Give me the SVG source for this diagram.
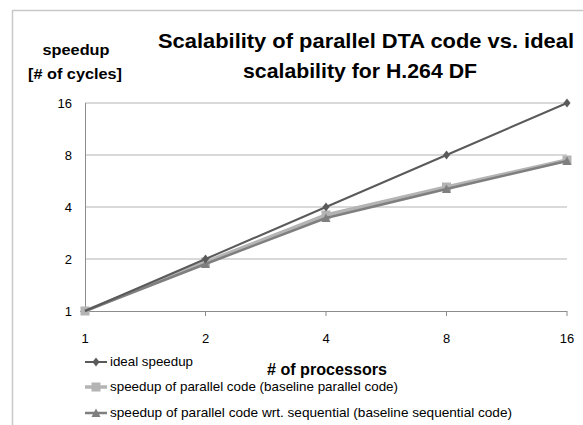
<svg xmlns="http://www.w3.org/2000/svg" width="583" height="425" viewBox="0 0 583 425">
  <style>
    .t { font-family: "Liberation Sans", Arial, sans-serif; fill: #000; }
    .title { font-size: 21px; font-weight: bold; text-anchor: middle; }
    .ylab { font-size: 15px; font-weight: bold; text-anchor: middle; }
    .tick { font-size: 13px; }
    .leg { font-size: 13px; }
    .grid { stroke: #b3b3b3; stroke-width: 1; }
    .axis { stroke: #8c8c8c; stroke-width: 1; fill: none; }
    .ideal { stroke: #5a5a5a; stroke-width: 2; fill: none; }
    .par { stroke: #b4b4b4; stroke-width: 3.5; fill: none; }
    .seq { stroke: #7f7f7f; stroke-width: 2.5; fill: none; }
  </style>
  <defs>
    <path id="dia" d="M0,-4.5 L3.5,0 L0,4.5 L-3.5,0 Z" fill="#5a5a5a"/>
    <rect id="sq" x="-4.5" y="-4.5" width="9" height="9" fill="#b4b4b4"/>
    <path id="tri" d="M0,-4.5 L4.5,4 L-4.5,4 Z" fill="#7f7f7f"/>
  </defs>

  <rect width="583" height="425" fill="#fff"/>
  <!-- chart frame -->
  <path d="M12.5,425 L12.5,10.5 L583,10.5" stroke="#c8c8c8" stroke-width="1.5" fill="none"/>

  <!-- titles -->
  <text class="t title" x="366" y="48" textLength="416" lengthAdjust="spacingAndGlyphs">Scalability of parallel DTA code vs. ideal</text>
  <text class="t title" x="360" y="78" textLength="234" lengthAdjust="spacingAndGlyphs">scalability for H.264 DF</text>
  <text class="t ylab" x="76" y="55" textLength="67" lengthAdjust="spacingAndGlyphs">speedup</text>
  <text class="t ylab" x="75" y="79" textLength="94" lengthAdjust="spacingAndGlyphs">[# of cycles]</text>

  <!-- gridlines -->
  <g id="grid">
    <line class="grid" x1="85" y1="103" x2="567" y2="103"/>
    <line class="grid" x1="85" y1="155" x2="567" y2="155"/>
    <line class="grid" x1="85" y1="207" x2="567" y2="207"/>
    <line class="grid" x1="85" y1="259" x2="567" y2="259"/>
  </g>
  <g id="axes">
    <line class="axis" x1="85.5" y1="103" x2="85.5" y2="311"/>
    <line class="axis" x1="80" y1="311.5" x2="567" y2="311.5"/>
    <line class="axis" x1="205.5" y1="311" x2="205.5" y2="316"/>
    <line class="axis" x1="326" y1="311" x2="326" y2="316"/>
    <line class="axis" x1="446.5" y1="311" x2="446.5" y2="316"/>
    <line class="axis" x1="567" y1="311" x2="567" y2="316"/>
  </g>

  <!-- axis labels -->
  <g id="yticks" class="t tick" text-anchor="end">
    <text x="72" y="108">16</text>
    <text x="72" y="160">8</text>
    <text x="72" y="212">4</text>
    <text x="72" y="264">2</text>
    <text x="72" y="316">1</text>
  </g>
  <g id="xticks" class="t tick" text-anchor="middle">
    <text x="85" y="343">1</text>
    <text x="205.5" y="343">2</text>
    <text x="326" y="343">4</text>
    <text x="446.5" y="343">8</text>
    <text x="567" y="343">16</text>
  </g>
  <text class="t" x="327" y="375" font-size="17" font-weight="bold" text-anchor="middle" textLength="120" lengthAdjust="spacingAndGlyphs"># of processors</text>

  <!-- data series -->
  <g id="series-parallel">
    <polyline class="par" points="85,311 205.5,262 326,215 446.5,187 567,160"/>
    <use href="#sq" x="85" y="311"/><use href="#sq" x="205.5" y="262"/><use href="#sq" x="326" y="215"/><use href="#sq" x="446.5" y="187"/><use href="#sq" x="567" y="160"/>
  </g>
  <g id="series-sequential">
    <polyline class="seq" points="85,311 205.5,264 326,218 446.5,189 567,161"/>
    <use href="#tri" x="205.5" y="264"/><use href="#tri" x="326" y="218"/><use href="#tri" x="446.5" y="189"/><use href="#tri" x="567" y="161"/>
  </g>
  <g id="series-ideal">
    <polyline class="ideal" points="85,311 205.5,259 326,207 446.5,155 567,103"/>
    <use href="#dia" x="205.5" y="259"/><use href="#dia" x="326" y="207"/><use href="#dia" x="446.5" y="155"/><use href="#dia" x="567" y="103"/>
  </g>

  <!-- legend -->
  <g id="legend">
    <line class="ideal" x1="85" y1="362" x2="107" y2="362"/><use href="#dia" x="96" y="362"/>
    <text class="t leg" x="110" y="366" textLength="83" lengthAdjust="spacingAndGlyphs">ideal speedup</text>
    <line class="par" x1="85" y1="387" x2="107" y2="387"/><use href="#sq" x="96" y="387"/>
    <text class="t leg" x="110" y="391" textLength="288" lengthAdjust="spacingAndGlyphs">speedup of parallel code (baseline parallel code)</text>
    <line class="seq" x1="85" y1="413" x2="107" y2="413"/><use href="#tri" x="96" y="413"/>
    <text class="t leg" x="110" y="417" textLength="402" lengthAdjust="spacingAndGlyphs">speedup of parallel code wrt. sequential (baseline sequential code)</text>
  </g>
</svg>
